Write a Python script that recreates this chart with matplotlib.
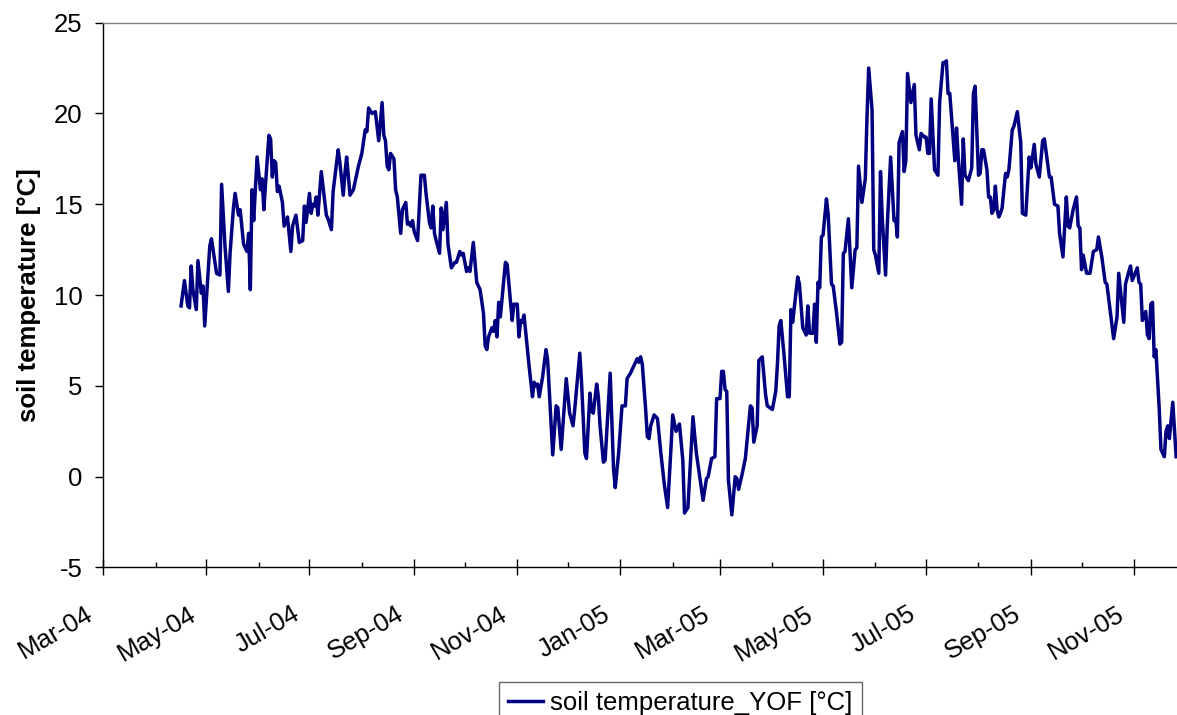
import numpy as np
import pandas as pd
import matplotlib
matplotlib.use("Agg")
import matplotlib.pyplot as plt
import matplotlib.dates as mdates
import matplotlib.transforms as mtransforms

plt.rcParams['font.family'] = ['Liberation Sans', 'DejaVu Sans']
plt.rcParams['axes.unicode_minus'] = False

# daily soil temperature (days counted from 1 Mar 2004)
start = pd.Timestamp("2004-03-01")
day_offset = [
    46, 48, 50, 51, 52, 53, 55, 56, 58, 59, 60, 63, 64, 67, 69, 70, 72, 74, 75, 77,
    78, 80, 81, 83, 85, 86, 87, 88, 89, 91, 93, 94, 95, 96, 98, 99, 100, 101, 102, 103,
    104, 106, 107, 109, 111, 112, 114, 116, 118, 119, 120, 122, 123, 124, 125, 126, 127, 129, 132, 133,
    135, 136, 139, 140, 142, 143, 144, 146, 148, 151, 153, 155, 156, 157, 159, 161, 163, 165, 166, 167,
    168, 169, 170, 172, 173, 174, 176, 177, 179, 180, 181, 182, 183, 184, 186, 188, 190, 191, 193, 194,
    195, 196, 197, 199, 200, 201, 203, 204, 206, 208, 209, 211, 212, 213, 215, 216, 217, 219, 221, 223,
    225, 226, 227, 228, 230, 231, 232, 233, 234, 235, 238, 239, 242, 243, 245, 246, 247, 248, 249, 251,
    252, 254, 255, 256, 257, 258, 260, 262, 263, 266, 268, 269, 271, 274, 276, 278, 279, 282, 283, 285,
    286, 288, 289, 290, 292, 293, 294, 296, 297, 300, 302, 303, 305, 307, 309, 310, 312, 314, 316, 317,
    318, 319, 321, 322, 323, 324, 326, 328, 330, 332, 334, 336, 337, 339, 341, 343, 344, 346, 349, 351,
    355, 357, 358, 360, 362, 363, 365, 366, 367, 368, 369, 370, 372, 374, 375, 376, 378, 380, 383, 384,
    385, 387, 388, 390, 392, 393, 396, 398, 399, 400, 401, 403, 405, 406, 407, 408, 411, 412, 414, 416,
    417, 418, 420, 421, 422, 423, 424, 425, 426, 428, 429, 431, 432, 434, 436, 437, 438, 439, 441, 443,
    445, 446, 447, 449, 451, 452, 453, 455, 456, 457, 459, 460, 461, 463, 464, 466, 468, 469, 470, 471,
    473, 474, 475, 476, 478, 480, 481, 483, 484, 486, 487, 488, 489, 490, 492, 494, 495, 497, 498, 499,
    500, 501, 504, 505, 506, 508, 509, 510, 512, 514, 515, 516, 518, 519, 520, 521, 523, 524, 525, 526,
    527, 528, 529, 530, 531, 532, 534, 535, 536, 538, 539, 541, 543, 544, 546, 548, 549, 551, 552, 554,
    556, 557, 560, 561, 563, 565, 566, 568, 570, 571, 572, 574, 576, 577, 578, 579, 580, 582, 584, 586,
    588, 589, 591, 593, 594, 596, 598, 600, 601, 604, 605, 607, 608, 609, 612, 613, 614, 615, 617, 618,
    619, 620, 621, 622, 623, 625, 626, 628, 629, 630, 631, 633, 634, 635,
]
soil_temp = [
    9.4, 10.8, 9.4, 9.3, 11.6, 10.3, 9.2, 11.9, 10.1, 10.5, 8.3, 12.7, 13.1, 11.2, 11.1, 16.1, 12.7, 10.2, 12.3, 14.8,
    15.6, 14.4, 14.7, 12.8, 12.4, 13.4, 10.3, 15.8, 14.1, 17.6, 15.8, 16.4, 14.7, 16.1, 18.8, 18.6, 16.5, 17.4, 17.3, 15.7,
    16.0, 15.1, 13.8, 14.3, 12.4, 13.8, 14.4, 12.9, 13.0, 14.9, 14.0, 15.6, 14.5, 15.0, 14.9, 15.4, 14.4, 16.8, 14.4, 14.2,
    13.6, 15.7, 18.0, 17.3, 15.5, 16.7, 17.6, 15.5, 15.8, 17.1, 17.8, 19.1, 19.0, 20.3, 20.0, 20.1, 18.5, 20.6, 18.8, 18.5,
    17.1, 16.9, 17.8, 17.5, 15.8, 15.4, 13.4, 14.7, 15.1, 13.9, 14.0, 13.8, 14.1, 13.5, 13.0, 16.6, 16.6, 15.6, 14.0, 13.7,
    14.9, 13.4, 13.0, 12.3, 14.8, 13.6, 15.1, 12.8, 11.5, 11.8, 11.8, 12.4, 12.2, 12.3, 11.3, 11.5, 11.3, 12.9, 10.7, 10.3,
    9.0, 7.2, 7.0, 7.7, 8.2, 8.0, 8.6, 7.7, 9.6, 8.8, 11.8, 11.7, 8.6, 9.5, 9.5, 7.7, 8.6, 8.5, 8.9, 7.0,
    6.1, 4.4, 5.2, 5.0, 5.1, 4.4, 5.5, 7.0, 6.4, 1.2, 3.9, 3.8, 1.5, 5.4, 3.5, 2.8, 3.7, 6.8, 5.3, 1.3,
    1.0, 4.6, 3.6, 3.5, 5.1, 4.4, 2.8, 0.8, 0.9, 5.7, 0.4, -0.6, 1.3, 3.9, 3.9, 5.4, 5.7, 6.1, 6.5, 6.3,
    6.6, 6.2, 3.7, 2.2, 2.1, 2.8, 3.4, 3.2, 1.3, -0.4, -1.7, 1.6, 3.4, 2.5, 2.9, 0.9, -2.0, -1.7, 3.3, 1.3,
    -1.3, -0.1, 0.0, 1.0, 1.1, 4.3, 4.3, 5.8, 5.8, 4.8, 4.7, -0.2, -2.1, 0.0, -0.1, -0.7, 0.1, 1.0, 3.9, 3.8,
    1.9, 2.8, 6.4, 6.6, 4.5, 3.9, 3.7, 4.7, 6.2, 8.3, 8.6, 6.6, 4.4, 4.4, 9.2, 8.5, 11.0, 10.6, 8.2, 7.8,
    9.4, 7.9, 7.9, 9.5, 7.4, 10.7, 10.4, 13.2, 13.3, 15.3, 14.5, 10.6, 10.5, 9.0, 7.3, 7.4, 12.3, 12.4, 14.2, 10.4,
    12.5, 12.6, 17.1, 15.1, 16.4, 19.8, 22.5, 20.2, 12.5, 12.2, 11.2, 16.8, 14.3, 11.1, 13.8, 17.6, 14.1, 14.2, 13.2, 18.4,
    19.0, 16.8, 17.4, 22.2, 20.6, 21.6, 18.8, 18.0, 18.9, 18.7, 18.7, 17.8, 17.8, 20.8, 16.9, 16.6, 20.6, 22.8, 22.8, 22.9,
    21.1, 21.1, 17.4, 19.2, 17.6, 15.0, 18.6, 16.6, 16.3, 17.0, 21.1, 21.5, 16.6, 16.7, 18.0, 18.0, 16.9, 15.4, 15.4, 14.5,
    14.7, 16.0, 14.7, 14.3, 14.5, 14.8, 16.7, 16.5, 16.9, 19.1, 19.3, 20.1, 18.4, 14.5, 14.4, 17.6, 17.0, 18.3, 17.2, 16.5,
    18.5, 18.6, 16.5, 16.5, 15.0, 14.9, 13.4, 12.1, 15.4, 13.8, 13.7, 14.7, 15.4, 13.8, 13.7, 11.4, 12.2, 11.2, 11.2, 12.4,
    12.5, 13.2, 12.1, 10.7, 10.6, 9.1, 7.6, 8.8, 11.2, 8.5, 10.6, 11.3, 11.6, 10.8, 11.5, 10.7, 10.6, 8.6, 9.1, 7.8,
    7.6, 9.5, 9.6, 6.6, 7.0, 3.7, 1.5, 1.1, 2.5, 2.8, 2.1, 4.1, 2.6, 1.1,
]
series_label = "soil temperature_YOF [°C]"
y_label = "soil temperature [°C]"
y_ticks = [-5, 0, 5, 10, 15, 20, 25]

dates = start + pd.to_timedelta(day_offset, unit="D")

fig = plt.figure(figsize=(11.77, 7.15), dpi=100)
ax = fig.add_axes([0.0878, 0.2063, 0.9122, 0.7620])

ax.plot(dates, soil_temp, color="#000080", linewidth=2.5, label=series_label)

ax.set_xlim(start, start + pd.Timedelta(days=635.5))
ax.set_ylim(-5, 25)
ax.set_yticks(y_ticks)

ax.xaxis.set_major_locator(mdates.MonthLocator(bymonth=[1, 3, 5, 7, 9, 11]))
ax.xaxis.set_minor_locator(mdates.MonthLocator())
ax.xaxis.set_major_formatter(mdates.DateFormatter("%b-%y"))

fs = 18.5
ax.tick_params(axis="x", which="major", direction="inout", length=11.5, width=1,
               pad=19, labelsize=fs, labelrotation=30)
ax.tick_params(axis="x", which="minor", direction="in", length=3.6, width=1)
ax.tick_params(axis="y", direction="out", length=5.8, width=1, pad=9, labelsize=fs)

offset = mtransforms.ScaledTranslation(-6 / 100, 0, fig.dpi_scale_trans)
for lab in ax.get_xticklabels():
    lab.set_ha("right")
    lab.set_transform(lab.get_transform() + offset)

for side in ["left", "bottom"]:
    ax.spines[side].set_color("black")
    ax.spines[side].set_linewidth(1)
ax.spines["top"].set_color("#808080")
ax.spines["top"].set_linewidth(1)
ax.spines["right"].set_visible(False)

ax.set_ylabel(y_label, fontsize=fs, fontweight="bold")
ax.yaxis.set_label_coords(-0.058, 0.5)

leg = fig.legend(loc="upper left", bbox_to_anchor=(0.424, 0.046), fontsize=fs,
                 frameon=True, fancybox=False, handlelength=1.35, handletextpad=0.3,
                 borderpad=0.35, borderaxespad=0)
leg.get_frame().set_edgecolor("#404040")
leg.get_frame().set_linewidth(1)

fig.savefig("out.png", dpi=100)
